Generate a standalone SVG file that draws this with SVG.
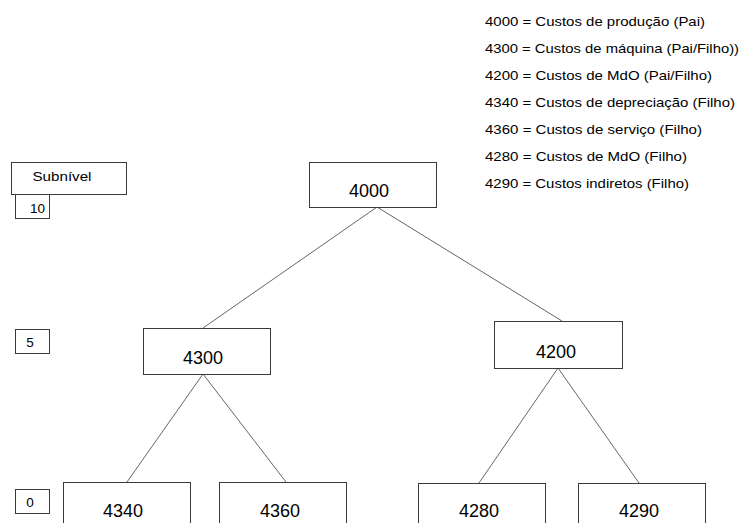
<svg xmlns="http://www.w3.org/2000/svg" width="744" height="523" viewBox="0 0 744 523">
<style>
.box{fill:#fff;stroke:#3a3a3a;stroke-width:1}
.lbl{font-family:"Liberation Sans",Arial,sans-serif;font-size:18px;fill:#000;text-anchor:middle}
.sm{font-family:"Liberation Sans",Arial,sans-serif;font-size:13.5px;fill:#000}
.leg{font-family:"Liberation Sans",Arial,sans-serif;font-size:13.5px;fill:#000}
.con{stroke:#666;stroke-width:1;fill:none}
</style>
<rect width="744" height="523" fill="#fff"/>
<g id="legend">
<text class="leg" x="485" y="26" textLength="220" lengthAdjust="spacingAndGlyphs">4000 = Custos de produção (Pai)</text>
<text class="leg" x="485" y="53" textLength="254" lengthAdjust="spacingAndGlyphs">4300 = Custos de máquina  (Pai/Filho))</text>
<text class="leg" x="485" y="80" textLength="227" lengthAdjust="spacingAndGlyphs">4200 = Custos de MdO (Pai/Filho)</text>
<text class="leg" x="485" y="107" textLength="250" lengthAdjust="spacingAndGlyphs">4340 = Custos de depreciação (Filho)</text>
<text class="leg" x="485" y="134" textLength="217" lengthAdjust="spacingAndGlyphs">4360 = Custos de serviço (Filho)</text>
<text class="leg" x="485" y="161" textLength="202" lengthAdjust="spacingAndGlyphs">4280 = Custos de MdO (Filho)</text>
<text class="leg" x="485" y="188" textLength="204" lengthAdjust="spacingAndGlyphs">4290 = Custos indiretos (Filho)</text>
</g>
<g id="connectors">
<line class="con" x1="377" y1="207" x2="203" y2="328"/>
<line class="con" x1="377" y1="207" x2="562" y2="321"/>
<line class="con" x1="203" y1="374" x2="127" y2="482"/>
<line class="con" x1="203" y1="374" x2="286" y2="482"/>
<line class="con" x1="558" y1="368" x2="479" y2="483"/>
<line class="con" x1="558" y1="368" x2="639" y2="483"/>
</g>
<g id="subnivel"><rect class="box" x="11.5" y="162.5" width="115" height="32"/><text class="sm" x="62" y="181" text-anchor="middle" textLength="59" lengthAdjust="spacingAndGlyphs">Subnível</text></g>
<g id="lvl10"><rect class="box" x="15.5" y="194.5" width="34" height="24"/><text class="sm" x="37.5" y="213" text-anchor="middle">10</text></g>
<g id="lvl5"><rect class="box" x="15.5" y="329.5" width="34" height="24"/><text class="sm" x="30" y="347" text-anchor="middle">5</text></g>
<g id="lvl0"><rect class="box" x="15.5" y="489.5" width="34" height="24"/><text class="sm" x="30" y="507" text-anchor="middle">0</text></g>
<g id="n4000"><rect class="box" x="309.5" y="162.5" width="127" height="45"/><text class="lbl" x="369" y="197">4000</text></g>
<g id="n4300"><rect class="box" x="143.5" y="328.5" width="127" height="46"/><text class="lbl" x="203" y="364">4300</text></g>
<g id="n4200"><rect class="box" x="494.5" y="321.5" width="128" height="47"/><text class="lbl" x="556" y="358">4200</text></g>
<g id="n4340"><rect class="box" x="63.5" y="482.5" width="127" height="50"/><text class="lbl" x="123" y="517">4340</text></g>
<g id="n4360"><rect class="box" x="219.5" y="482.5" width="127" height="50"/><text class="lbl" x="280" y="517">4360</text></g>
<g id="n4280"><rect class="box" x="418.5" y="483.5" width="127" height="50"/><text class="lbl" x="479" y="517">4280</text></g>
<g id="n4290"><rect class="box" x="578.5" y="483.5" width="127" height="50"/><text class="lbl" x="639" y="517">4290</text></g>
</svg>
